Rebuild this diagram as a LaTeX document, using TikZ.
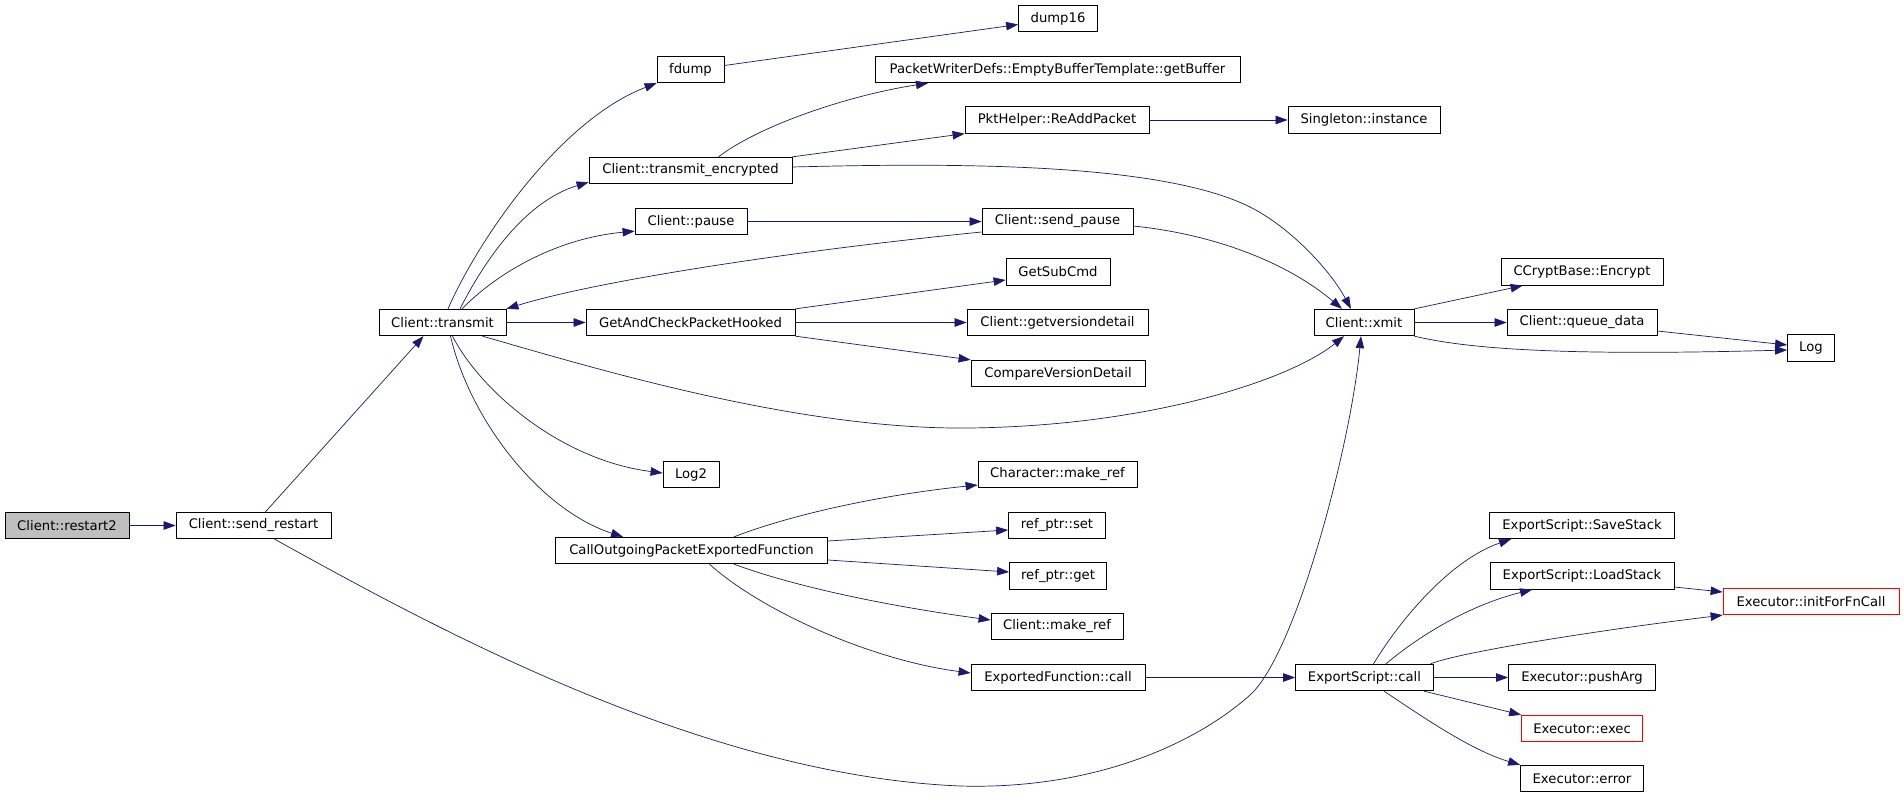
\documentclass[tikz,border=0pt]{standalone}
\usepackage{fontspec}
\setmainfont{DejaVu Sans}
\usetikzlibrary{arrows.meta,positioning}
\definecolor{edgeblue}{RGB}{25,25,112}
\tikzset{
    func/.style={rectangle, draw, line width=0.8pt, minimum height=26.5pt, inner sep=0pt, font=\fontsize{13.2}{15}\selectfont},
    rootfunc/.style={func, fill=gray!50},
    redfunc/.style={func, draw=red},
    call/.style={line width=0.7pt, color=edgeblue, -{Triangle[length=12pt,width=8.5pt]}}
}
\begin{document}
\begin{tikzpicture}[x=1pt,y=-1pt]
    \useasboundingbox (0,0) rectangle (1904,797);
    % functions, column by column
    \node[rootfunc, minimum width=124pt] (restart2) at (67,525.5) {Client::restart2};
    \node[func, minimum width=155pt] (sendrestart) at (253.5,525.5) {Client::send\_restart};
    \node[func, minimum width=127pt] (transmit) at (442.5,322.5) {Client::transmit};

    \node[func, minimum width=67pt] (fdump) at (690.5,69.5) {fdump};
    \node[func, minimum width=203pt] (transenc) at (690.5,170.5) {Client::transmit\_encrypted};
    \node[func, minimum width=112pt] (pause) at (691,221.5) {Client::pause};
    \node[func, minimum width=209pt] (getcheck) at (690.5,322.5) {GetAndCheckPacketHooked};
    \node[func, minimum width=56pt] (log2) at (691,474.5) {Log2};
    \node[func, minimum width=272pt] (callout) at (691.5,550.5) {CallOutgoingPacketExportedFunction};

    \node[func, minimum width=79pt] (dump16) at (1058,18.5) {dump16};
    \node[func, minimum width=365pt] (getbuffer) at (1057.5,69.5) {PacketWriterDefs::EmptyBufferTemplate::getBuffer};
    \node[func, minimum width=184pt] (readd) at (1057,120) {PktHelper::ReAddPacket};
    \node[func, minimum width=151pt] (sendpause) at (1057.5,221.5) {Client::send\_pause};
    \node[func, minimum width=104pt] (getsubcmd) at (1058,272) {GetSubCmd};
    \node[func, minimum width=181pt] (getversion) at (1057.5,322.5) {Client::getversiondetail};
    \node[func, minimum width=174pt] (compare) at (1058,373.5) {CompareVersionDetail};
    \node[func, minimum width=159pt] (charref) at (1057.5,474.5) {Character::make\_ref};
    \node[func, minimum width=97pt] (refset) at (1057,525.5) {ref\_ptr::set};
    \node[func, minimum width=97pt] (refget) at (1058,576) {ref\_ptr::get};
    \node[func, minimum width=132pt] (clientref) at (1057,626.5) {Client::make\_ref};
    \node[func, minimum width=174pt] (expfn) at (1058,677.5) {ExportedFunction::call};

    \node[func, minimum width=152pt] (singleton) at (1364,120) {Singleton::instance};
    \node[func, minimum width=100pt] (xmit) at (1364,322.5) {Client::xmit};
    \node[func, minimum width=138pt] (escall) at (1364.5,677.5) {ExportScript::call};

    \node[func, minimum width=162pt] (encrypt) at (1582,272) {CCryptBase::Encrypt};
    \node[func, minimum width=150pt] (queue) at (1582,322.5) {Client::queue\_data};
    \node[func, minimum width=185pt] (savestack) at (1582,525.5) {ExportScript::SaveStack};
    \node[func, minimum width=184pt] (loadstack) at (1582,576) {ExportScript::LoadStack};
    \node[func, minimum width=147pt] (pusharg) at (1582,677.5) {Executor::pushArg};
    \node[redfunc, minimum width=121pt] (exec) at (1582,728.5) {Executor::exec};
    \node[func, minimum width=123pt] (error) at (1582,778.5) {Executor::error};

    \node[func, minimum width=47pt] (log) at (1811,348) {Log};
    \node[redfunc, minimum width=176pt] (initfn) at (1811,601.5) {Executor::initForFnCall};

    % calls
    \draw[call] (restart2.east) -- (sendrestart.west);
    \draw[call] ([xshift=12pt]sendrestart.north) -- ([xshift=-19pt]transmit.south);
    \draw[call] ([xshift=21pt]sendrestart.south) .. controls (430,625) and (700,775) .. (960,786)
        .. controls (1100,790) and (1200,740) .. (1250,695)
        .. controls (1295,655) and (1350,450) .. ([xshift=-3pt]xmit.south);

    \draw[call] ([xshift=5.5pt]transmit.north) .. controls (478,240) and (560,120) .. (fdump.south west);
    \draw[call] ([xshift=17.5pt]transmit.north) .. controls (490,250) and (530,200) .. ([yshift=2pt]transenc.south west);
    \draw[call] ([xshift=19.5pt]transmit.north) .. controls (500,270) and (560,238) .. ([yshift=4pt]pause.south west);
    \draw[call] (transmit.east) -- (getcheck.west);
    \draw[call] ([xshift=40pt]transmit.south) .. controls (600,370) and (800,430) .. (969,428)
        .. controls (1150,426) and (1290,380) .. ([xshift=-20pt]xmit.south);
    \draw[call] ([xshift=10pt]transmit.south) .. controls (480,390) and (560,460) .. ([yshift=1.5pt]log2.west);
    \draw[call] ([xshift=8pt]transmit.south) .. controls (470,420) and (540,510) .. ([xshift=-68.5pt]callout.north);
    \draw[call] ([yshift=-10.5pt]sendpause.west) .. controls (800,250) and (600,280) .. (transmit.north east);

    \draw[call] ([yshift=4pt]fdump.east) -- ([yshift=-6pt]dump16.west);
    \draw[call] ([xshift=28pt]transenc.north) .. controls (760,125) and (850,95) .. ([xshift=-129.5pt]getbuffer.south);
    \draw[call] (transenc.north east) -- (readd.south west);
    \draw[call] ([yshift=3.5pt]transenc.east) .. controls (950,163) and (1160,162) .. (1250,207)
        .. controls (1290,227) and (1330,270) .. ([xshift=-13pt]xmit.north);
    \draw[call] (readd.east) -- (singleton.west);
    \draw[call] (pause.east) -- (sendpause.west);
    \draw[call] ([yshift=-4.5pt]sendpause.east) .. controls (1220,235) and (1290,265) .. ([xshift=-22pt]xmit.north);

    \draw[call] (getcheck.north east) -- ([yshift=-8pt]getsubcmd.west);
    \draw[call] (getcheck.east) -- (getversion.west);
    \draw[call] (getcheck.south east) -- (compare.north west);

    \draw[call] (xmit.north east) -- ([xshift=22pt]encrypt.south west);
    \draw[call] (xmit.east) -- (queue.west);
    \draw[call] (xmit.south east) .. controls (1480,352) and (1600,355) .. ([yshift=-2pt]log.west);
    \draw[call] ([yshift=-8.5pt]queue.east) -- ([yshift=3pt]log.west);

    \draw[call] ([xshift=42.5pt]callout.north) .. controls (790,515) and (880,495) .. ([yshift=-10.5pt]charref.west);
    \draw[call] ([yshift=9.5pt]callout.east) -- ([yshift=-4.5pt]refset.west);
    \draw[call] ([yshift=-9.5pt]callout.east) -- ([yshift=4pt]refget.west);
    \draw[call] ([xshift=42.5pt]callout.south) .. controls (790,585) and (880,605) .. ([yshift=6.5pt]clientref.west);
    \draw[call] ([xshift=18pt]callout.south) .. controls (760,610) and (870,660) .. ([yshift=4.5pt]expfn.west);
    \draw[call] (expfn.east) -- (escall.west);

    \draw[call] ([xshift=9pt]escall.north) .. controls (1400,620) and (1450,560) .. ([xshift=-71pt]savestack.south);
    \draw[call] ([xshift=21.5pt]escall.north) .. controls (1420,635) and (1470,605) .. ([xshift=-50pt]loadstack.south);
    \draw[call] ([xshift=66pt]escall.north) .. controls (1460,652) and (1600,630) .. (initfn.south west);
    \draw[call] (escall.east) -- (pusharg.west);
    \draw[call] ([xshift=59.5pt]escall.south) -- (exec.north west);
    \draw[call] ([xshift=19.5pt]escall.south) .. controls (1420,715) and (1470,750) .. (error.north west);
    \draw[call] ([yshift=-11pt]loadstack.east) -- ([yshift=9.5pt]initfn.west);
\end{tikzpicture}
\end{document}
